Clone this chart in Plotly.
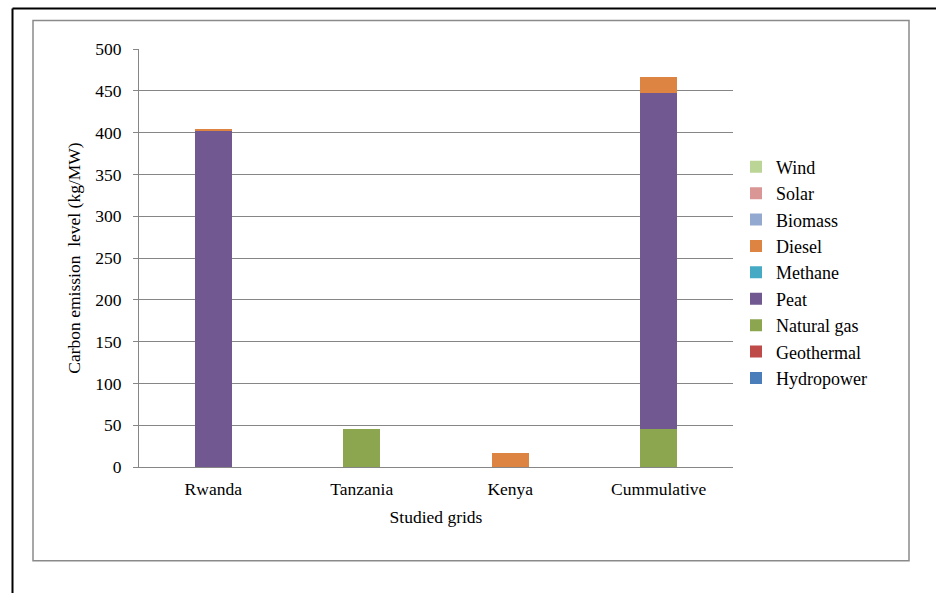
import plotly.graph_objects as go

# Studied grids and carbon emission contribution per source (kg/MW)
grids = ["Rwanda", "Tanzania", "Kenya", "Cummulative"]

hydropower = [0, 0, 0, 0]
geothermal = [0, 0, 0, 0]
natural_gas = [0, 45, 0, 45]
peat = [402, 0, 0, 402]
methane = [0, 0, 0, 0]
diesel = [2, 0, 17, 19]
biomass = [0, 0, 0, 0]
solar = [0, 0, 0, 0]
wind = [0, 0, 0, 0]

# stacked bottom -> top
series = [
    ("Hydropower", hydropower, "#4A7EBB"),
    ("Geothermal", geothermal, "#BE4B48"),
    ("Natural gas", natural_gas, "#8CA64F"),
    ("Peat", peat, "#715891"),
    ("Methane", methane, "#46AAC5"),
    ("Diesel", diesel, "#DE8442"),
    ("Biomass", biomass, "#94A9D0"),
    ("Solar", solar, "#D99694"),
    ("Wind", wind, "#BBD597"),
]

FONT = "Liberation Serif"
FS = 17.5
LEG_FS = 18
W, H = 936, 593
L, R, T, B = 139, 733, 49, 466.7  # plot area in pixels


def px_x(p):
    return (p - L) / (R - L)


def px_y(p):
    return (B - p) / (B - T)


fig = go.Figure()
n = len(series)
for i, (name, vals, col) in enumerate(series):
    fig.add_trace(go.Bar(
        x=grids, y=vals, name=name,
        marker=dict(color=col, line=dict(width=0)),
        legendgroup=name,
        legendrank=n - i,  # top of stack listed first
    ))

grid_col = "#868686"
fig.update_layout(
    width=W, height=H,
    margin=dict(l=L, r=W - R, t=T, b=H - B, autoexpand=False),
    barmode="stack",
    bargap=0.75,
    paper_bgcolor="white",
    plot_bgcolor="white",
    font=dict(family=FONT, size=FS, color="black"),
    showlegend=True,
    legend=dict(
        x=px_x(736), xanchor="left",
        y=px_y(148.5), yanchor="top",
        traceorder="grouped",
        tracegroupgap=0,
        font=dict(family=FONT, size=LEG_FS, color="black"),
        bgcolor="rgba(0,0,0,0)",
    ),
    xaxis=dict(
        showgrid=False, showline=True, linecolor=grid_col, linewidth=1,
        ticks="", tickfont=dict(family=FONT, size=FS),
        ticklabelstandoff=6,
        title=dict(text="Studied grids", standoff=12,
                   font=dict(family=FONT, size=FS)),
        automargin=False,
    ),
    yaxis=dict(
        range=[0, 500], dtick=50, tick0=0,
        showgrid=True, gridcolor=grid_col, gridwidth=1,
        showline=True, linecolor=grid_col, linewidth=1,
        ticks="outside", ticklen=5, tickcolor=grid_col,
        tickfont=dict(family=FONT, size=FS),
        ticklabelstandoff=8,
        title=dict(text="Carbon emission  level (kg/MW)", standoff=10,
                   font=dict(family=FONT, size=FS)),
        automargin=False, zeroline=False,
    ),
    shapes=[
        # inner grey chart frame
        dict(type="rect", xref="paper", yref="paper",
             x0=px_x(33), x1=px_x(909), y0=px_y(20.5), y1=px_y(560.5),
             line=dict(color="#8a8a8a", width=1.5), layer="below"),
        # outer black page border (top and left)
        dict(type="line", xref="paper", yref="paper",
             x0=px_x(12.5), x1=px_x(940), y0=px_y(8.5), y1=px_y(8.5),
             line=dict(color="black", width=2)),
        dict(type="line", xref="paper", yref="paper",
             x0=px_x(12.5), x1=px_x(12.5), y0=px_y(8.5), y1=px_y(600),
             line=dict(color="black", width=2)),
    ],
)

fig.write_html("out.html")
